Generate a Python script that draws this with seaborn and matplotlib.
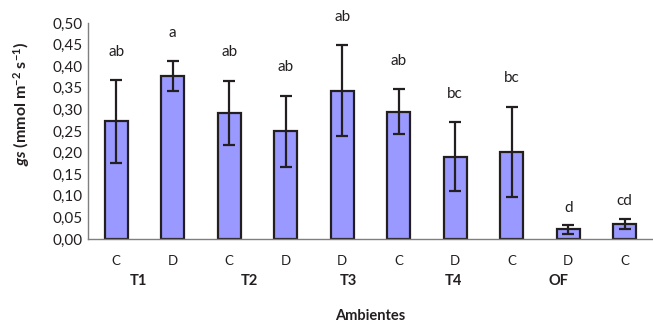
import numpy as np
import pandas as pd
import matplotlib
matplotlib.use("Agg")
import matplotlib.pyplot as plt
import seaborn as sns
from matplotlib.ticker import FuncFormatter, MultipleLocator

# Data
treat = ["C", "D", "C", "D", "D", "C", "D", "C", "D", "C"]
gs_mean = [0.272, 0.377, 0.292, 0.249, 0.343, 0.295, 0.190, 0.202, 0.022, 0.035]
gs_err = [0.096, 0.034, 0.074, 0.083, 0.105, 0.052, 0.080, 0.104, 0.010, 0.012]
letters = ["ab", "a", "ab", "ab", "ab", "ab", "bc", "bc", "d", "cd"]
groups = ["T1", "T2", "T3", "T4", "OF"]

df = pd.DataFrame({
    "id": [str(i) for i in range(len(treat))],
    "treat": treat,
    "gs": gs_mean,
    "err": gs_err,
})

sns.set_style("white")
plt.rcParams["font.family"] = ["Lato", "DejaVu Sans"]
plt.rcParams["mathtext.fontset"] = "custom"
plt.rcParams["mathtext.rm"] = "Lato:bold"
plt.rcParams["mathtext.it"] = "Lato:bold:italic"
plt.rcParams["mathtext.bf"] = "Lato:bold"

fig = plt.figure(figsize=(6.53, 3.25), dpi=100)
ax = fig.add_axes([88 / 653, 86 / 325, 565 / 653, 216 / 325])

sns.barplot(
    data=df, x="id", y="gs", ax=ax,
    color="#9999FF", saturation=1, width=0.41,
    edgecolor="#231F20", linewidth=1.6, errorbar=None
)

x = np.arange(len(treat))
ax.errorbar(
    x, df["gs"], yerr=df["err"], fmt="none",
    ecolor="#231F20", elinewidth=1.6, capsize=4.6, capthick=1.6
)

# significance letters
for xi, m, e, lab in zip(x, gs_mean, gs_err, letters):
    off = 0.066 if m > 0.1 else 0.04
    ax.text(xi, m + e + off, lab, ha="center", va="center",
            fontsize=11, color="#231F20")

ax.set_xlim(-0.5, -0.5 + 565 / 57.2)
ax.set_ylim(0, 0.5)
ax.yaxis.set_major_locator(MultipleLocator(0.05))
ax.yaxis.set_major_formatter(FuncFormatter(lambda v, p: f"{v:.2f}".replace(".", ",")))

ax.set_xticks(np.arange(len(treat) + 1) - 0.5, minor=False)
ax.set_xticklabels([])
ax.tick_params(axis="x", which="major", direction="in", length=4,
               width=0.8, color="#7F7F7F")
ax.tick_params(axis="y", direction="in", length=5, width=0.8,
               color="#7F7F7F", labelsize=11, pad=4, labelcolor="#231F20")

for xi, t in zip(x, treat):
    ax.text(xi, -0.052, t, ha="center", va="center", fontsize=9.5,
            color="#231F20", transform=ax.transData, clip_on=False)

group_px = [138.8, 249.7, 348.5, 453.5, 558.7]
for gx, g in zip(group_px, groups):
    fig.text(gx / 653, 1 - 281 / 325, g, ha="center", va="center",
             fontsize=10.5, fontweight="bold", color="#231F20")

fig.text(370 / 653, 1 - 316 / 325, "Ambientes", ha="center", va="center",
         fontsize=10.5, fontweight="bold", color="#231F20")

fig.text(22 / 653, 1 - 104 / 325, r"$\it{gs}$ (mmol m$^{-2}$ s$^{-1}$)",
         rotation=90, ha="center", va="center", fontsize=11.5,
         fontweight="bold", color="#231F20")

ax.set_xlabel("")
ax.set_ylabel("")
for s in ["top", "right"]:
    ax.spines[s].set_visible(False)
for s in ["left", "bottom"]:
    ax.spines[s].set_color("#7F7F7F")
    ax.spines[s].set_linewidth(1.0)

fig.savefig("out.png", dpi=100)
